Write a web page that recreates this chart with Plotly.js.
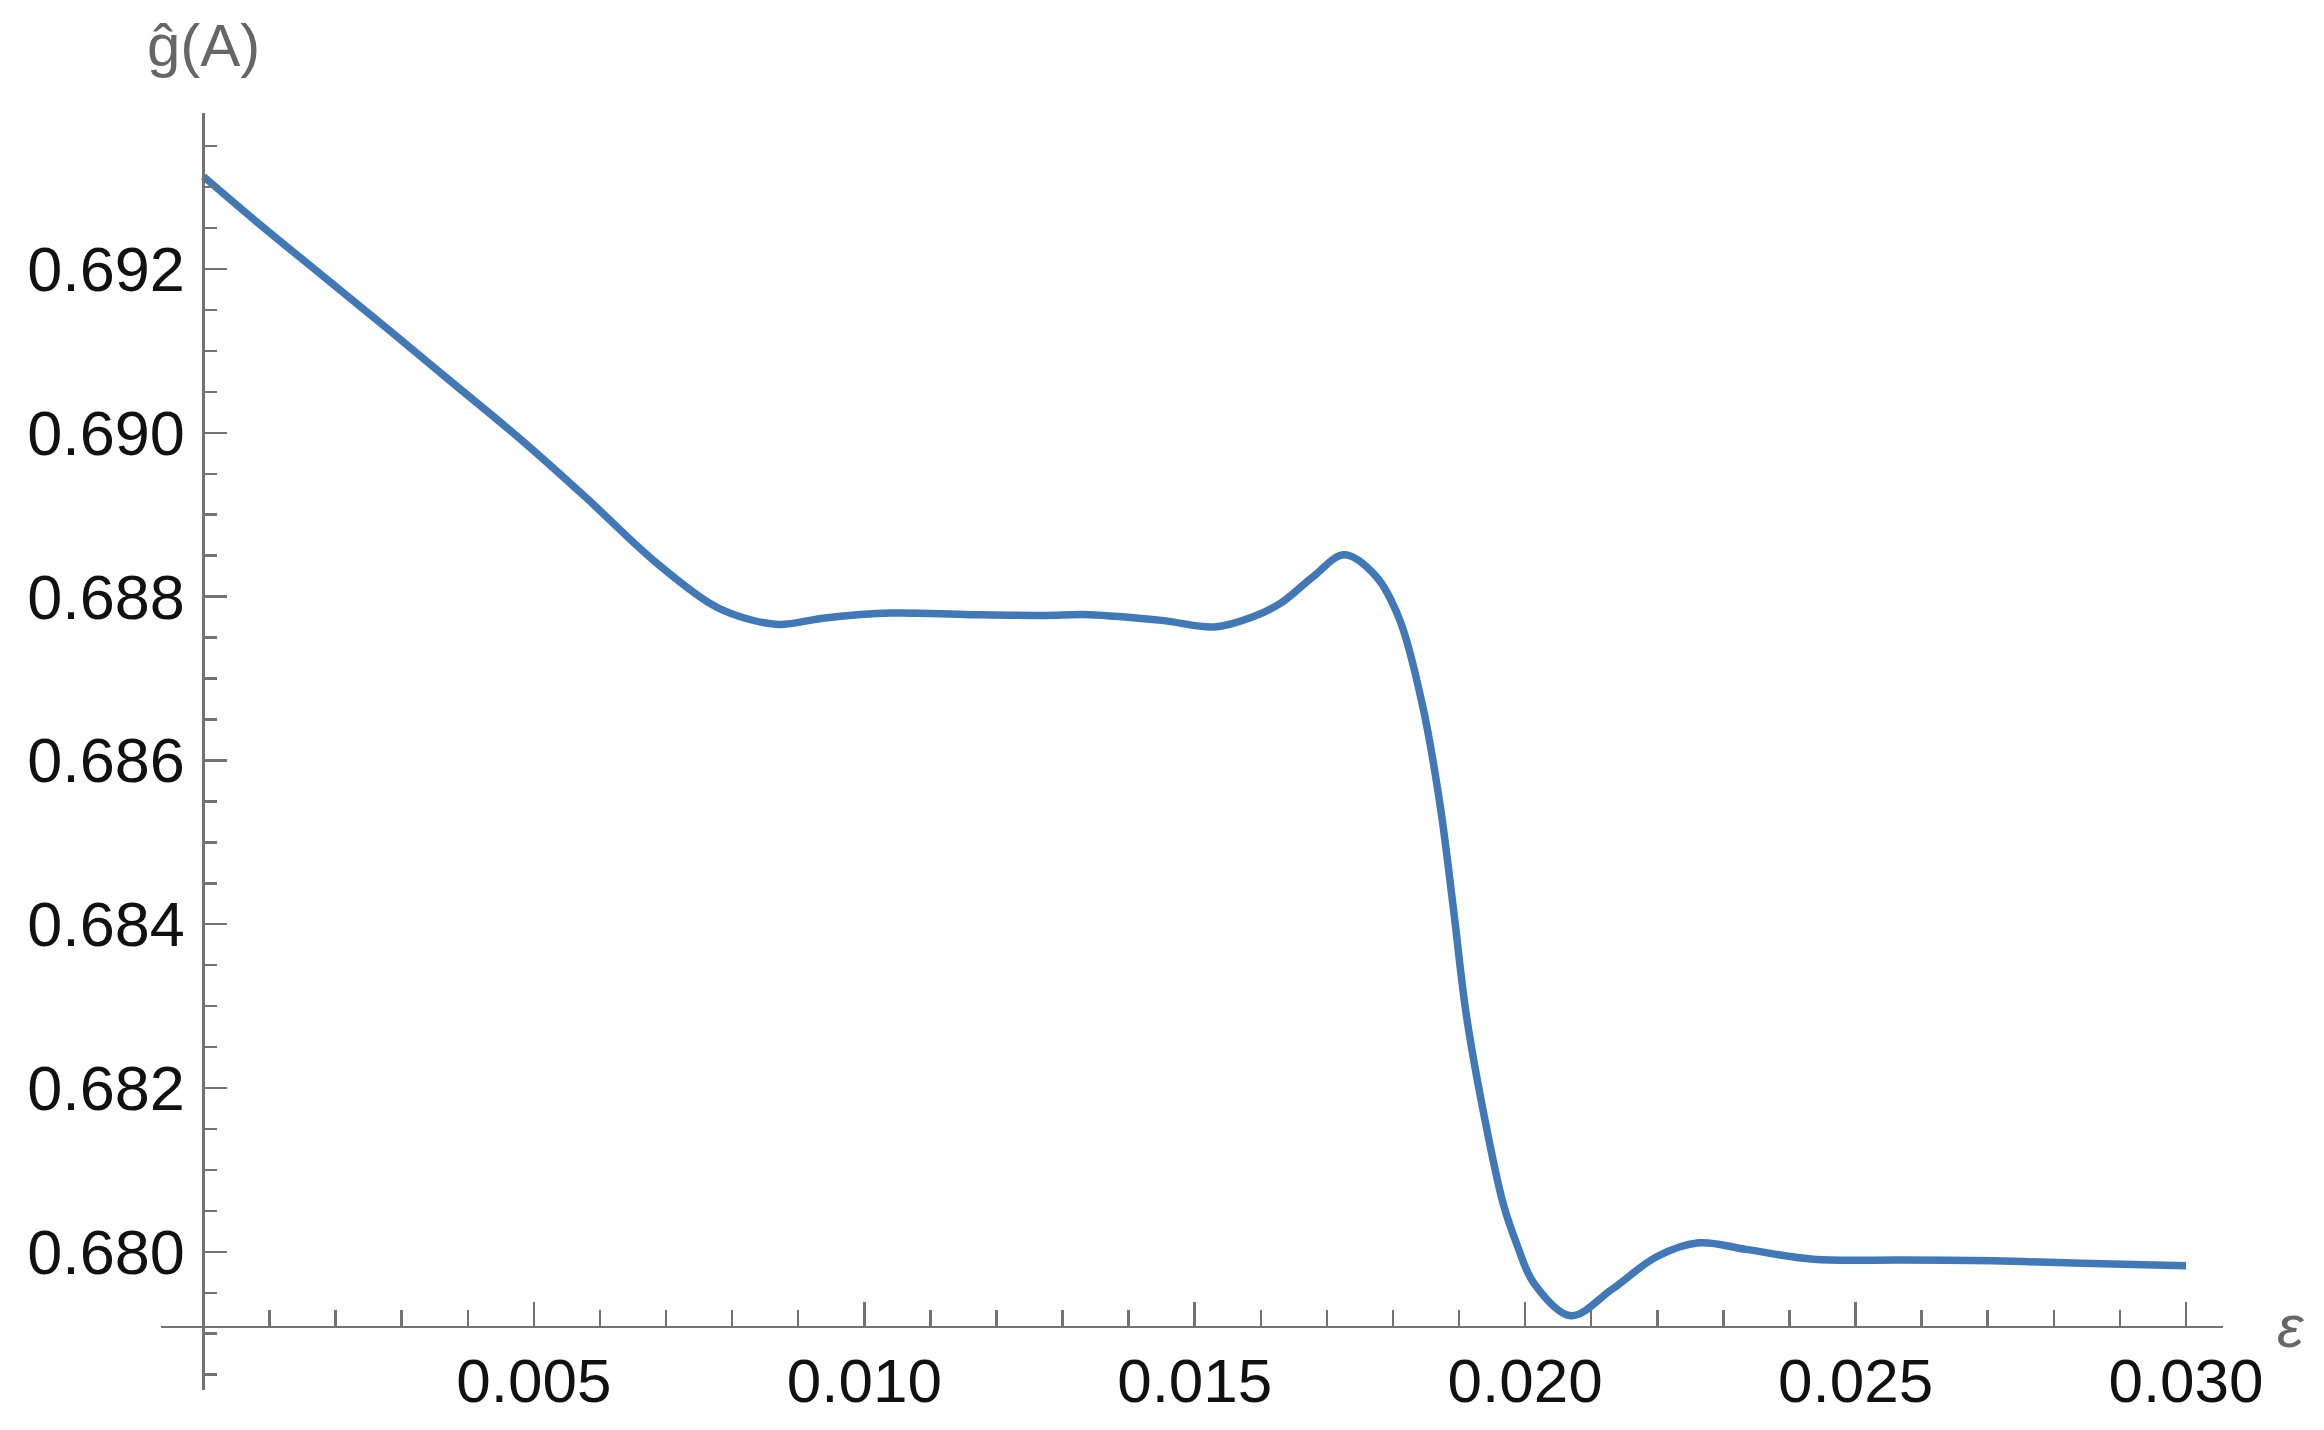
<!DOCTYPE html>
<html>
<head>
<meta charset="utf-8">
<script src="https://cdn.plot.ly/plotly-3.0.1.min.js"></script>
<style>html,body{margin:0;padding:0;background:#fff;}#chart{width:2324px;height:1430px;}</style>
</head>
<body>
<div id="chart"></div>
<script>
// epsilon values
var epsValues = [0, 0.0008, 0.0018, 0.0028, 0.0038, 0.0048, 0.0058, 0.0068, 0.0077, 0.0081,
  0.0087, 0.0094, 0.0104, 0.0116, 0.0127, 0.0134, 0.0145, 0.0153, 0.0159,
  0.0163, 0.0168, 0.01726, 0.01774, 0.0181, 0.01845, 0.01871, 0.01891, 0.01911, 0.01937,
  0.01967, 0.01988, 0.02013, 0.02069, 0.02131, 0.02199, 0.02263, 0.02334, 0.02436, 0.02571,
  0.02707, 0.02842, 0.030];
// g-hat(A) values
var gValues = [0.69313, 0.69258, 0.69192, 0.69126, 0.69059, 0.68992, 0.68920, 0.68845, 0.68790, 0.68776,
  0.68766, 0.68774, 0.68780, 0.68778, 0.68777, 0.68778, 0.68771, 0.68763, 0.68776,
  0.68792, 0.68825, 0.68851, 0.68825, 0.68772, 0.68666, 0.68547, 0.68422, 0.68289, 0.68170,
  0.68058, 0.68008, 0.67962, 0.67922, 0.67954, 0.67994, 0.68011, 0.68003, 0.67991, 0.67990,
  0.67989, 0.67986, 0.67983];

var xTickVals = [0.005, 0.010, 0.015, 0.020, 0.025, 0.030];
var xTickText = ["0.005", "0.010", "0.015", "0.020", "0.025", "0.030"];
var yTickVals = [0.680, 0.682, 0.684, 0.686, 0.688, 0.690, 0.692];
var yTickText = ["0.680", "0.682", "0.684", "0.686", "0.688", "0.690", "0.692"];

var xMinor = [];
for (var i = 1; i <= 29; i++) { if (i % 5 !== 0) xMinor.push(i / 1000); }
var yMinor = [];
for (var k = 6785; k <= 6935; k += 5) { if (k % 20 !== 0) yMinor.push(k / 10000); }

var xRange = [-0.000643, 0.03056];
var yRange = [0.678313, 0.693905];
var xAxisCross = 0.679088;

var axisColor = '#737373';
var fontFam = 'Liberation Sans, Arial, sans-serif';

var trace = {
  x: epsValues, y: gValues, type: 'scatter', mode: 'lines',
  line: {color: '#4078b8', width: 7.5, shape: 'spline', smoothing: 1},
  hoverinfo: 'skip', showlegend: false
};

var layout = {
  width: 2324, height: 1430,
  margin: {l: 161, r: 101, t: 113, b: 40, pad: 0},
  paper_bgcolor: '#fff', plot_bgcolor: '#fff',
  font: {family: fontFam, size: 62, color: '#111'},
  xaxis: {
    range: xRange, anchor: 'free',
    position: (xAxisCross - yRange[0]) / (yRange[1] - yRange[0]),
    showline: true, linecolor: axisColor, linewidth: 2.5,
    showgrid: false, zeroline: false,
    tickmode: 'array', tickvals: xTickVals, ticktext: xTickText,
    ticks: 'inside', ticklen: 24, tickwidth: 2.5, tickcolor: axisColor,
    tickfont: {family: fontFam, size: 62, color: '#111'},
    minor: {tickmode: 'array', tickvals: xMinor, ticks: 'inside', ticklen: 16, tickwidth: 2.5, tickcolor: axisColor, showgrid: false},
    fixedrange: true
  },
  yaxis: {
    range: yRange, anchor: 'free',
    position: (0 - xRange[0]) / (xRange[1] - xRange[0]),
    showline: true, linecolor: axisColor, linewidth: 2.5,
    showgrid: false, zeroline: false,
    tickmode: 'array', tickvals: yTickVals, ticktext: yTickText,
    ticks: 'inside', ticklen: 22, tickwidth: 2.5, tickcolor: axisColor,
    tickfont: {family: fontFam, size: 63, color: '#111'},
    ticklabelstandoff: 5,
    minor: {tickmode: 'array', tickvals: yMinor, ticks: 'inside', ticklen: 12, tickwidth: 2.5, tickcolor: axisColor, showgrid: false},
    fixedrange: true
  },
  annotations: [
    {text: 'ĝ(A)', xref: 'x', x: 0, xanchor: 'center', yref: 'paper', y: 1 + (113 - 45) / 1277, yanchor: 'middle',
     showarrow: false, font: {family: fontFam, size: 60, color: '#666'}},
    {text: '<i>ε</i>', xref: 'paper', x: (2291 - 161) / 2062, xanchor: 'center', yref: 'paper', y: (1390 - 1326) / 1277, yanchor: 'middle',
     showarrow: false, font: {family: fontFam, size: 60, color: '#666'}}
  ]
};

Plotly.newPlot('chart', [trace], layout, {staticPlot: true, displayModeBar: false});
</script>
</body>
</html>
